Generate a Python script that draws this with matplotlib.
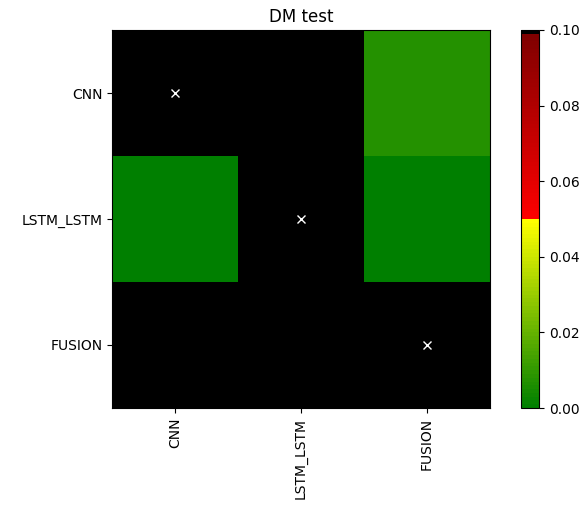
import numpy as np
import matplotlib
matplotlib.use("Agg")
import matplotlib.pyplot as plt
import matplotlib as mpl

# modelos y p-valores del test DM (fila = modelo 1, columna = modelo 2)
modelos = ['CNN', 'LSTM_LSTM', 'FUSION']
p_values = np.array([
    [1.0,    0.62,   0.0072],
    [0.0005, 1.0,    0.0004],
    [0.99,   0.95,   1.0],
])

# mapa de colores verde-amarillo / rojo-negro
red = np.concatenate([np.linspace(0, 1, 50), np.linspace(1, 0.5, 50)[1:], [0]])
green = np.concatenate([np.linspace(0.5, 1, 50), np.zeros(50)])
blue = np.zeros(100)
rgb = np.concatenate([red.reshape(-1, 1), green.reshape(-1, 1), blue.reshape(-1, 1)], axis=1)
cmap = mpl.colors.ListedColormap(rgb)

fig = plt.figure(figsize=(5.84, 5.16), dpi=100)
ax = fig.add_axes([0.1918, 0.2093, 0.647, 0.7326])
cax = fig.add_axes([0.892, 0.2093, 0.031, 0.7326])

im = ax.imshow(p_values, cmap=cmap, vmin=0, vmax=0.1)
ax.set_xticks(range(len(modelos)))
ax.set_xticklabels(modelos, rotation=90.)
ax.set_yticks(range(len(modelos)))
ax.set_yticklabels(modelos)
ax.plot(range(len(modelos)), range(len(modelos)), 'wx')
ax.set_title('DM test')
fig.colorbar(im, cax=cax)

fig.savefig('out.png', dpi=100)
